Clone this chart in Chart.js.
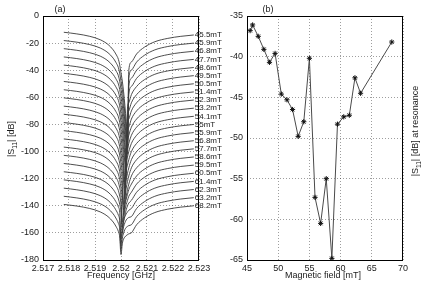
<!DOCTYPE html>
<html>
<head>
<meta charset="utf-8">
<script src="https://cdn.jsdelivr.net/npm/chart.js@4.4.1/dist/chart.umd.min.js"></script>
<style>
html, body { margin: 0; padding: 0; background: #fff; }
#wrap { position: relative; width: 423px; height: 283px; overflow: hidden; }
canvas { position: absolute; top: 0; }
#cA { left: 0; }
#cB { left: 225px; }
</style>
</head>
<body>
<div id="wrap">
  <canvas id="cA" width="225" height="283"></canvas>
  <canvas id="cB" width="198" height="283"></canvas>
</div>
<script>
// (a) frequency sweep, one curve per field value
const freqGHz = [2.5178, 2.5183, 2.5188, 2.5192, 2.5195, 2.5197, 2.5198, 2.5199, 2.51995, 2.52, 2.52005, 2.5201,
                 2.52015, 2.5202, 2.52025, 2.5203, 2.5204, 2.5206, 2.5209, 2.5213, 2.5218, 2.5223, 2.5228];
const freqTicks = [2.517, 2.518, 2.519, 2.52, 2.521, 2.522, 2.523];
const freqTickLabels = ["2.517", "2.518", "2.519", "2.52", "2.521", "2.522", "2.523"];
const dbTicks = [-180, -160, -140, -120, -100, -80, -60, -40, -20, 0];

const s455 = [-12, -13.2, -15, -17.5, -21, -25, -28, -32, -36, -42, -48, -56, -66, -78, -90, -40, -34, -28, -23, -19, -16.5, -15, -14];
const s459 = [-18.1, -19.3, -21.1, -23.6, -27.1, -31.1, -34.1, -38.1, -42.1, -48.1, -54.1, -62.1, -72.1, -84.1, -94, -46, -40, -34, -29, -25, -22.5, -21, -20];
const s468 = [-24.1, -25.3, -27.1, -29.6, -33.1, -37.1, -40.1, -44.1, -48.1, -54.1, -60.1, -68.1, -78.1, -90, -98, -52, -46, -40, -35, -31, -28.5, -27, -26];
const s477 = [-30.2, -31.4, -33.2, -35.7, -39.2, -43.2, -46.2, -50.2, -54.2, -60.2, -66.2, -74.2, -84.2, -94, -102, -58, -52, -46, -41, -37, -34.5, -33, -32];
const s486 = [-36.2, -37.4, -39.2, -41.7, -45.2, -49.2, -52.2, -56.2, -60.2, -66.2, -72.2, -80.2, -90.2, -106, -68, -64, -58, -52, -47, -43, -40.5, -39, -38];
const s495 = [-42.3, -43.5, -45.3, -47.8, -51.3, -55.3, -58.3, -62.3, -66.3, -72.3, -78.3, -86.3, -96.3, -111, -74, -70, -64, -58, -53, -49, -46.5, -45, -44];
const s505 = [-48.3, -49.5, -51.3, -53.8, -57.3, -61.3, -64.3, -68.3, -72.3, -78.3, -84.3, -92.3, -102.3, -115, -80, -76, -70, -64, -59, -55, -52.5, -51, -50];
const s514 = [-54.4, -55.6, -57.4, -59.9, -63.4, -67.4, -70.4, -74.4, -78.4, -84.4, -90.4, -98.4, -108.4, -119, -86, -82, -76, -70, -65, -61, -58.5, -57, -56];
const s523 = [-60.4, -61.6, -63.4, -65.9, -69.4, -73.4, -76.4, -80.4, -84.4, -90.4, -96.4, -104.4, -123, -97, -92, -88, -82, -76, -71, -67, -64.5, -63, -62];
const s532 = [-66.5, -67.7, -69.5, -72, -75.5, -79.5, -82.5, -86.5, -90.5, -96.5, -102.5, -110.5, -127, -103, -98, -94, -88, -82, -77, -73, -70.5, -69, -68];
const s541 = [-72.5, -73.7, -75.5, -78, -81.5, -85.5, -88.5, -92.5, -96.5, -102.5, -108.5, -116.5, -131, -109, -104, -100, -94, -88, -83, -79, -76.5, -75, -74];
const s550 = [-78.6, -79.8, -81.6, -84.1, -87.6, -91.6, -94.6, -98.6, -102.6, -108.6, -114.6, -122.6, -135, -115, -110, -106, -100, -94, -89, -85, -82.5, -81, -80];
const s559 = [-84.6, -85.8, -87.6, -90.1, -93.6, -97.6, -100.6, -104.6, -108.6, -114.6, -120.6, -139, -128, -121, -116, -112, -106, -100, -95, -91, -88.5, -87, -86];
const s568 = [-90.7, -91.9, -93.7, -96.2, -99.7, -103.7, -106.7, -110.7, -114.7, -120.7, -126.7, -143, -134, -127, -122, -118, -112, -106, -101, -97, -94.5, -93, -92];
const s577 = [-96.7, -97.9, -99.7, -102.2, -105.7, -109.7, -112.7, -116.7, -120.7, -126.7, -132.7, -147, -139, -133, -128, -124, -118, -112, -107, -103, -100.5, -99, -98];
const s586 = [-102.8, -104, -105.8, -108.3, -111.8, -115.8, -118.8, -122.8, -126.8, -132.8, -152, -144, -139, -135, -131.5, -128, -124, -118, -113, -109, -106.5, -105, -104];
const s595 = [-108.8, -110, -111.8, -114.3, -117.8, -121.8, -124.8, -128.8, -132.8, -138.8, -156, -148, -143, -139, -136, -133, -130, -124, -119, -115, -112.5, -111, -110];
const s605 = [-114.9, -116.1, -117.9, -120.4, -123.9, -127.9, -130.9, -134.9, -138.9, -144.9, -160, -152, -147, -143, -140, -138, -136, -130, -125, -121, -118.5, -117, -116];
const s614 = [-120.9, -122.1, -123.9, -126.4, -129.9, -133.9, -136.9, -140.9, -144.9, -164, -156, -151, -148, -146, -144.5, -143.3, -142, -136, -131, -127, -124.5, -123, -122];
const s623 = [-127, -128.2, -130, -132.5, -136, -140, -143, -147, -151, -168, -160, -155.5, -152.5, -150.5, -149.3, -148.6, -148, -142, -137, -133, -130.5, -129, -128];
const s632 = [-133, -134.2, -136, -138.5, -142, -146, -149, -153, -157, -172, -164, -160, -157.5, -156, -155.2, -154.6, -154, -148, -143, -139, -136.5, -135, -134];
const s682 = [-139, -140.2, -142, -144.5, -148, -152, -155, -159, -163, -176, -168, -164.5, -163, -162, -161.3, -160.7, -160, -154, -149, -145, -142.5, -141, -140];

// (b) |S11| at resonance vs field
const fieldmT = [45.5, 45.9, 46.8, 47.7, 48.6, 49.5, 50.5, 51.4, 52.3, 53.2, 54.1, 55, 55.9, 56.8, 57.7, 58.6, 59.5, 60.5, 61.4, 62.3, 63.2, 68.2];
const resonanceDb = [-36.8, -36.1, -37.5, -39.1, -40.7, -39.6, -44.6, -45.3, -46.5, -49.8, -48.0, -40.2, -57.3, -60.5, -55.0, -64.8, -48.3, -47.4, -47.2, -42.6, -44.5, -38.2];

const sweeps = [s455, s459, s468, s477, s486, s495, s505, s514, s523, s532, s541, s550,
                s559, s568, s577, s586, s595, s605, s614, s623, s632, s682];

const FONT = '"Liberation Sans", Arial, Helvetica, sans-serif';
const TXT = "#1a1a1a";
const gridStyle = { color: "rgba(0,0,0,0.38)", lineWidth: 1, drawTicks: false, tickLength: 0 };
const borderStyle = { display: false, dash: [1, 2] };

// "|S11| ..." with subscript, rotated to read bottom to top
function drawS11Label(ctx, cx, cy, tail) {
  ctx.save();
  ctx.translate(cx, cy);
  ctx.rotate(-Math.PI / 2);
  ctx.fillStyle = TXT;
  ctx.textBaseline = "middle";
  const big = "9px " + FONT, small = "6.5px " + FONT;
  ctx.font = big;
  const w1 = ctx.measureText("|S").width;
  const w3 = ctx.measureText(tail).width;
  ctx.font = small;
  const w2 = ctx.measureText("11").width;
  let x = -(w1 + w2 + w3) / 2;
  ctx.font = big;
  ctx.fillText("|S", x, 0);
  x += w1;
  ctx.font = small;
  ctx.fillText("11", x, 3);
  x += w2;
  ctx.font = big;
  ctx.fillText(tail, x, 0);
  ctx.restore();
}

function boxPlugin(drawTexts) {
  return {
    id: "box",
    afterDraw(chart) {
      const { ctx, chartArea: a } = chart;
      ctx.save();
      ctx.strokeStyle = "#000";
      ctx.lineWidth = 1;
      ctx.strokeRect(Math.round(a.left) + 0.5, Math.round(a.top) + 0.5,
                     Math.round(a.right - a.left) - 1, Math.round(a.bottom - a.top));
      ctx.restore();
      drawTexts(chart);
    }
  };
}

const curveNames = {
  id: "curveNames",
  afterDatasetsDraw(chart) {
    const ctx = chart.ctx;
    ctx.save();
    ctx.font = "8px " + FONT;
    ctx.fillStyle = TXT;
    ctx.textBaseline = "middle";
    chart.data.datasets.forEach((ds, i) => {
      const meta = chart.getDatasetMeta(i);
      const pt = meta.data[meta.data.length - 1];
      ctx.fillText(ds.label, pt.x + 1, pt.y);
    });
    ctx.restore();
  }
};

new Chart(document.getElementById("cA"), {
  type: "line",
  data: {
    datasets: sweeps.map((vals, i) => ({
      label: fieldmT[i] + "mT",
      data: freqGHz.map((f, j) => ({ x: f, y: vals[j] })),
      borderColor: "#3a3a3a",
      borderWidth: 0.9,
      pointRadius: 0,
      cubicInterpolationMode: "monotone",
      fill: false
    }))
  },
  options: {
    responsive: false,
    animation: false,
    devicePixelRatio: 1,
    layout: { padding: { top: 16, right: 26, left: 0, bottom: 0 } },
    plugins: { legend: { display: false }, tooltip: { enabled: false } },
    scales: {
      x: {
        type: "linear",
        min: 2.517,
        max: 2.523,
        afterBuildTicks: (s) => { s.ticks = freqTicks.map(v => ({ value: v })); },
        afterFit: (s) => { s.height = 23; },
        grid: gridStyle,
        border: borderStyle,
        ticks: {
          padding: 3,
          maxRotation: 0,
          autoSkip: false,
          color: TXT,
          font: { family: FONT, size: 9 },
          callback: (v, i) => freqTickLabels[i]
        }
      },
      y: {
        min: -180,
        max: 0,
        afterBuildTicks: (s) => { s.ticks = dbTicks.map(v => ({ value: v })); },
        afterFit: (s) => { s.width = 43; },
        grid: gridStyle,
        border: borderStyle,
        ticks: { padding: 4, color: TXT, font: { family: FONT, size: 9 } }
      }
    }
  },
  plugins: [curveNames, boxPlugin((chart) => {
    const ctx = chart.ctx, a = chart.chartArea;
    ctx.save();
    ctx.fillStyle = TXT;
    ctx.font = "9px " + FONT;
    ctx.textAlign = "center";
    ctx.textBaseline = "middle";
    ctx.fillText("(a)", 60, 10);
    ctx.fillText("Frequency [GHz]", (a.left + a.right) / 2, 276);
    ctx.restore();
    drawS11Label(ctx, 12, 139, "| [dB]");
  })]
});

new Chart(document.getElementById("cB"), {
  type: "line",
  data: {
    datasets: [{
      label: "|S11| at resonance",
      data: fieldmT.map((m, i) => ({ x: m, y: resonanceDb[i] })),
      borderColor: "#4a4a4a",
      borderWidth: 1,
      pointStyle: "star",
      pointRadius: 2.6,
      pointBorderColor: "#111",
      pointBorderWidth: 1,
      tension: 0,
      fill: false
    }]
  },
  options: {
    responsive: false,
    animation: false,
    devicePixelRatio: 1,
    layout: { padding: { top: 16, right: 20, left: 0, bottom: 0 } },
    plugins: { legend: { display: false }, tooltip: { enabled: false } },
    scales: {
      x: {
        type: "linear",
        min: 45,
        max: 70,
        afterFit: (s) => { s.height = 23; },
        grid: gridStyle,
        border: borderStyle,
        ticks: { stepSize: 5, padding: 3, maxRotation: 0, color: TXT, font: { family: FONT, size: 9 } }
      },
      y: {
        min: -65,
        max: -35,
        afterFit: (s) => { s.width = 22; },
        grid: gridStyle,
        border: borderStyle,
        ticks: { stepSize: 5, padding: 4, color: TXT, font: { family: FONT, size: 9 } }
      }
    }
  },
  plugins: [boxPlugin((chart) => {
    const ctx = chart.ctx, a = chart.chartArea;
    ctx.save();
    ctx.fillStyle = TXT;
    ctx.font = "9px " + FONT;
    ctx.textAlign = "center";
    ctx.textBaseline = "middle";
    ctx.fillText("(b)", 43, 10);
    ctx.fillText("Magnetic field [mT]", (a.left + a.right) / 2 - 2, 276);
    ctx.restore();
    drawS11Label(ctx, a.right + 13, 131, "| [dB] at resonance");
  })]
});
</script>
</body>
</html>
